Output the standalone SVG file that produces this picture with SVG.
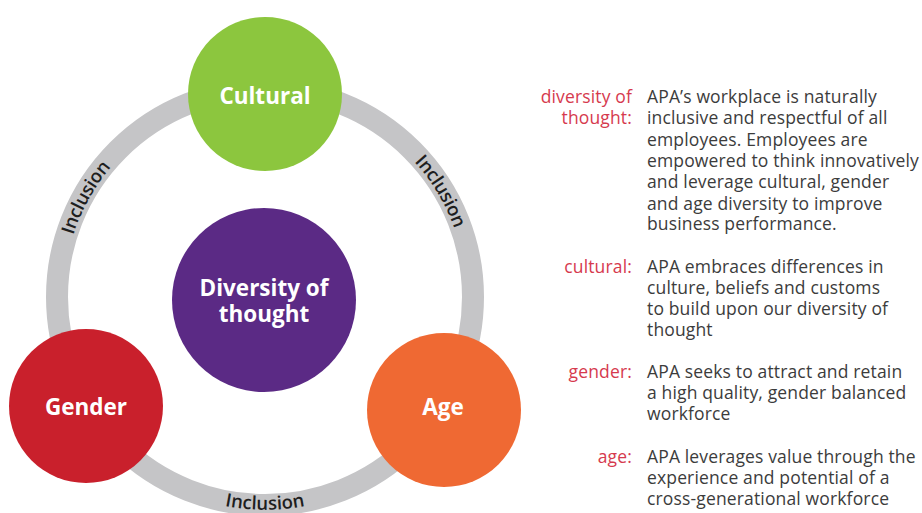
<svg xmlns="http://www.w3.org/2000/svg" width="922" height="513" viewBox="0 0 922 513">
  <style>
    .node-label { font-family: "Open Sans", "Liberation Sans", sans-serif; font-weight: 700; font-size: 22.5px; fill: #ffffff; text-anchor: middle; }
    .ring-label { font-family: "Open Sans", "Liberation Sans", sans-serif; font-weight: 600; font-size: 18.5px; fill: #1e1e1e; }
    .term { font-family: "Open Sans", "Liberation Sans", sans-serif; font-size: 17.5px; letter-spacing: 0.15px; fill: #d63a4e; text-anchor: end; }
    .desc { font-family: "Open Sans", "Liberation Sans", sans-serif; font-size: 17.5px; letter-spacing: 0.15px; fill: #3c3c3c; }
  </style>
  <defs>
    <!-- label paths around the ring, centre (265,297), radius 208 -->
    <path id="arcLeft" d="M 60.8,336.7 A 208,208 0 0 1 190.5,102.8" fill="none"/>
    <path id="arcRight" d="M 332.7,100.3 A 208,208 0 0 1 470.4,329.5" fill="none"/>
    <path id="arcBottom" d="M 140,469 A 212,212 0 0 0 390,469" fill="none"/>
  </defs>
  <rect width="922" height="513" fill="#ffffff"/>

  <!-- Inclusion ring -->
  <g id="connectors">
    <circle cx="265" cy="297" r="208" fill="none" stroke="#c5c5c7" stroke-width="22"/>
    <text class="ring-label" dy="6.5"><textPath href="#arcLeft" startOffset="50%" text-anchor="middle">Inclusion</textPath></text>
    <text class="ring-label" dy="6.5"><textPath href="#arcRight" startOffset="50%" text-anchor="middle">Inclusion</textPath></text>
    <text class="ring-label"><textPath href="#arcBottom" startOffset="50%" text-anchor="middle">Inclusion</textPath></text>
  </g>

  <g id="node-cultural">
    <circle cx="265" cy="94" r="77" fill="#8cc63e"/>
    <text class="node-label" x="265" y="104">Cultural</text>
  </g>
  <g id="node-gender">
    <circle cx="86" cy="406" r="77" fill="#c9202c"/>
    <text class="node-label" x="86" y="415">Gender</text>
  </g>
  <g id="node-age">
    <circle cx="444" cy="410" r="77" fill="#ef6933"/>
    <text class="node-label" x="443" y="415">Age</text>
  </g>
  <g id="node-diversity">
    <circle cx="264" cy="300" r="92" fill="#5b2a85"/>
    <text class="node-label" x="264" y="296">Diversity of</text>
    <text class="node-label" x="264" y="322">thought</text>
  </g>

  <!-- Definitions -->
  <g id="definitions">
    <text class="term" x="632" y="103">diversity of</text>
    <text class="term" x="632" y="124">thought:</text>
    <text class="desc" x="647" y="103">APA’s workplace is naturally</text>
    <text class="desc" x="647" y="124">inclusive and respectful of all</text>
    <text class="desc" x="647" y="145.5">employees. Employees are</text>
    <text class="desc" x="647" y="167">empowered to think innovatively</text>
    <text class="desc" x="647" y="188">and leverage cultural, gender</text>
    <text class="desc" x="647" y="209.5">and age diversity to improve</text>
    <text class="desc" x="647" y="230">business performance.</text>

    <text class="term" x="632" y="273">cultural:</text>
    <text class="desc" x="647" y="273">APA embraces differences in</text>
    <text class="desc" x="647" y="294">culture, beliefs and customs</text>
    <text class="desc" x="647" y="315">to build upon our diversity of</text>
    <text class="desc" x="647" y="336">thought</text>

    <text class="term" x="632" y="378">gender:</text>
    <text class="desc" x="647" y="378">APA seeks to attract and retain</text>
    <text class="desc" x="647" y="399">a high quality, gender balanced</text>
    <text class="desc" x="647" y="420">workforce</text>

    <text class="term" x="632" y="463">age:</text>
    <text class="desc" x="647" y="463">APA leverages value through the</text>
    <text class="desc" x="647" y="484">experience and potential of a</text>
    <text class="desc" x="647" y="505">cross-generational workforce</text>
  </g>
</svg>
